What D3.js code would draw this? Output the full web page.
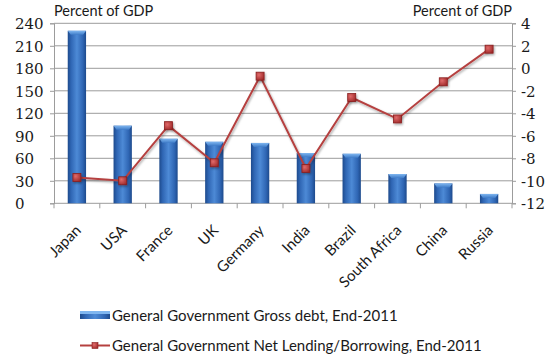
<!DOCTYPE html>
<html>
<head>
<meta charset="utf-8">
<script src="https://cdn.jsdelivr.net/npm/d3@7"></script>
<style>
  html, body { margin: 0; padding: 0; background: #fff; }
  svg { display: block; }
  .num { font-family: "DejaVu Serif", "Liberation Serif", serif; font-size: 15px; fill: #1a1a1a; }
  .lbl { font-family: Lato, "Open Sans", Arial, sans-serif; fill: #1a1a1a; }
</style>
</head>
<body>
<svg id="chart" width="555" height="354"></svg>
<script>
// Government finances by country, end of 2011
const countries = ["Japan", "USA", "France", "UK", "Germany", "India", "Brazil", "South Africa", "China", "Russia"];
const grossDebt = [230, 103.5, 86, 82, 80.5, 67, 66, 39, 26.5, 12.5];
const netLending = [-9.7, -10.0, -5.1, -8.4, -0.7, -8.9, -2.6, -4.5, -1.2, 1.7];
const leftTicks = [0, 30, 60, 90, 120, 150, 180, 210, 240];
const rightTicks = [-12, -10, -8, -6, -4, -2, 0, 2, 4];
const debtLabel = "General Government Gross debt, End-2011";
const lendingLabel = "General Government Net Lending/Borrowing, End-2011";
const axisTitle = "Percent of GDP";

const svg = d3.select("#chart");
const plot = { left: 54, right: 512, top: 23.3, bottom: 203.3 };

const x = d3.scaleBand().domain(countries).range([plot.left, plot.right]).paddingInner(0.6).paddingOuter(0.3);
const xOuter = d3.scaleBand().domain(countries).range([plot.left, plot.right]);
const yL = d3.scaleLinear().domain([0, 240]).range([plot.bottom, plot.top]);
const yR = d3.scaleLinear().domain([-12, 4]).range([plot.bottom, plot.top]);

const defs = svg.append("defs");
const barGrad = defs.append("linearGradient").attr("id", "barGrad").attr("x1", 0).attr("x2", 1).attr("y1", 0).attr("y2", 0);
[[0, "#1d4a8c"], [0.18, "#2f66b4"], [0.5, "#4d8ad6"], [0.82, "#2f66b4"], [1, "#1d4a8c"]]
  .forEach(([o, c]) => barGrad.append("stop").attr("offset", o).attr("stop-color", c));
const capGrad = defs.append("linearGradient").attr("id", "capGrad").attr("x1", 0).attr("x2", 0).attr("y1", 0).attr("y2", 1);
[[0, "#7fb6f0"], [1, "#3f7cc8"]].forEach(([o, c]) => capGrad.append("stop").attr("offset", o).attr("stop-color", c));
const mkGrad = defs.append("radialGradient").attr("id", "mkGrad").attr("cx", 0.35).attr("cy", 0.35).attr("r", 0.8);
[[0, "#e06a6a"], [1, "#9a2424"]].forEach(([o, c]) => mkGrad.append("stop").attr("offset", o).attr("stop-color", c));
const shadow = defs.append("filter").attr("id", "shadow").attr("x", "-50%").attr("y", "-50%").attr("width", "200%").attr("height", "200%");
shadow.append("feDropShadow").attr("dx", 1).attr("dy", 1.5).attr("stdDeviation", 1.2).attr("flood-color", "#000").attr("flood-opacity", 0.35);

// Horizontal gridlines
svg.append("g").selectAll("line").data(leftTicks.filter(d => d > 0)).join("line")
  .attr("x1", plot.left).attr("x2", plot.right)
  .attr("y1", d => yL(d)).attr("y2", d => yL(d))
  .attr("stroke", "#9c9c9c").attr("stroke-width", 1);

// Left axis
const gL = svg.append("g").attr("transform", `translate(${plot.left},0)`)
  .call(d3.axisLeft(yL).tickValues(leftTicks).tickSize(4).tickPadding(4));
gL.selectAll("path, line").attr("stroke", "#9c9c9c");
gL.selectAll("text").attr("class", "num").attr("font-family", null).attr("font-size", null)
  .attr("text-anchor", "start").attr("x", -39).attr("dy", "0.36em");

// Right axis
const gR = svg.append("g").attr("transform", `translate(${plot.right},0)`)
  .call(d3.axisRight(yR).tickValues(rightTicks).tickSize(4).tickFormat(d3.format("d")).tickPadding(5));
gR.selectAll("path, line").attr("stroke", "#9c9c9c");
gR.selectAll("text").attr("class", "num").attr("font-family", null).attr("font-size", null).attr("dy", "0.36em")
  .text(d => d < 0 ? "-" + Math.abs(d) : d);

// Bottom axis with ticks between categories
const gB = svg.append("g").attr("transform", `translate(0,${plot.bottom})`);
gB.append("line").attr("x1", plot.left).attr("x2", plot.right).attr("stroke", "#9c9c9c");
gB.selectAll("line.tick").data(countries.concat(["_end"])).join("line").attr("class", "tick")
  .attr("x1", (d, i) => i < countries.length ? xOuter(d) : plot.right)
  .attr("x2", (d, i) => i < countries.length ? xOuter(d) : plot.right)
  .attr("y1", 0).attr("y2", 5).attr("stroke", "#9c9c9c");
gB.selectAll("text").data(countries).join("text")
  .attr("class", "lbl").attr("font-size", 15)
  .attr("text-anchor", "end")
  .attr("transform", d => `translate(${xOuter(d) + xOuter.bandwidth() / 2 + 5},${28}) rotate(-45)`)
  .text(d => d);

// Bars for gross debt
const bars = svg.append("g").selectAll("g").data(countries).join("g");
bars.append("rect")
  .attr("x", d => x(d)).attr("width", x.bandwidth())
  .attr("y", (d, i) => yL(grossDebt[i])).attr("height", (d, i) => yL(0) - yL(grossDebt[i]))
  .attr("fill", "url(#barGrad)");
bars.append("path")
  .attr("d", (d, i) => {
    const x0 = x(d), w = x.bandwidth(), y0 = yL(grossDebt[i]);
    return `M${x0},${y0}L${x0 + w},${y0}L${x0 + w - 3},${y0 + 4}L${x0 + 3},${y0 + 4}Z`;
  })
  .attr("fill", "url(#capGrad)");

// Line for net lending/borrowing
const cx = d => xOuter(d) + xOuter.bandwidth() / 2;
const line = d3.line().x((d, i) => cx(countries[i])).y(d => yR(d));
svg.append("path").datum(netLending).attr("d", line)
  .attr("fill", "none").attr("stroke", "#b5403f").attr("stroke-width", 2).attr("filter", "url(#shadow)");
svg.append("g").selectAll("rect").data(netLending).join("rect")
  .attr("x", (d, i) => cx(countries[i]) - 4).attr("y", d => yR(d) - 4)
  .attr("width", 8).attr("height", 8)
  .attr("fill", "url(#mkGrad)").attr("stroke", "#8a1f1f").attr("stroke-width", 0.8)
  .attr("filter", "url(#shadow)");

// Axis titles
svg.append("text").attr("class", "lbl").attr("font-size", 14.5).attr("x", plot.left).attr("y", 16).text(axisTitle);
svg.append("text").attr("class", "lbl").attr("font-size", 14.5).attr("text-anchor", "end").attr("x", plot.right).attr("y", 16).text(axisTitle);

// Legend
const lg = svg.append("g");
lg.append("rect").attr("x", 80).attr("y", 311).attr("width", 30).attr("height", 8).attr("fill", "url(#barGrad)");
lg.append("rect").attr("x", 80).attr("y", 311).attr("width", 30).attr("height", 3).attr("fill", "#7fb6f0");
lg.append("text").attr("class", "lbl").attr("font-size", 15).attr("x", 112).attr("y", 321).text(debtLabel);
lg.append("line").attr("x1", 80).attr("x2", 110).attr("y1", 345.5).attr("y2", 345.5).attr("stroke", "#b5403f").attr("stroke-width", 2);
lg.append("rect").attr("x", 92).attr("y", 342.5).attr("width", 6).attr("height", 6).attr("fill", "url(#mkGrad)").attr("stroke", "#8a1f1f").attr("stroke-width", 0.6);
lg.append("text").attr("class", "lbl").attr("font-size", 15).attr("x", 112).attr("y", 350.5).text(lendingLabel);
</script>
</body>
</html>
